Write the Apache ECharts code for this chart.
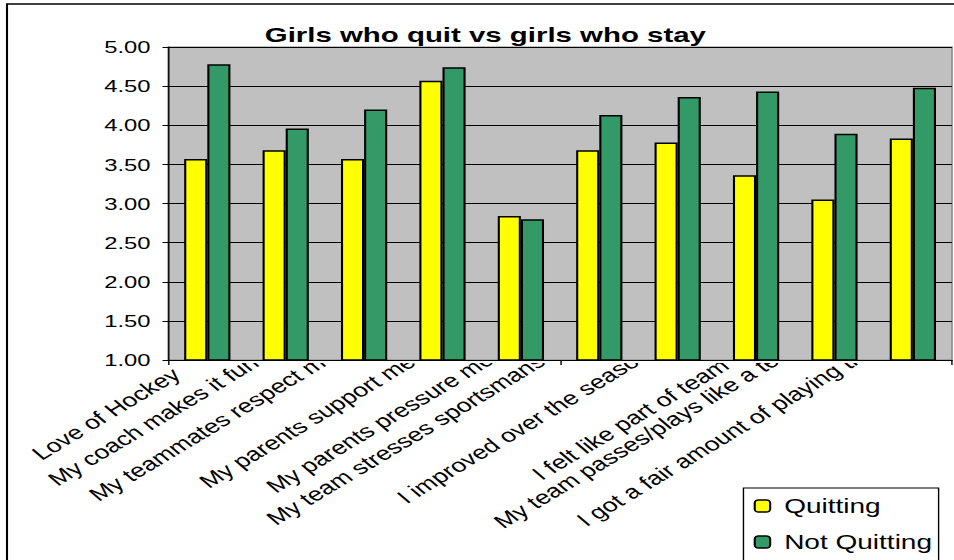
<!DOCTYPE html>
<html>
<head>
<meta charset="utf-8">
<script src="https://cdn.jsdelivr.net/npm/echarts@6/dist/echarts.min.js"></script>
<style>
  html, body { margin: 0; padding: 0; background: #fff; overflow: hidden; width: 954px; height: 560px; }
  /* the chart is laid out narrow and widened horizontally, giving the wide-lettered look */
  #chart { width: 681px; height: 560px; transform: scaleX(1.4009); transform-origin: 0 0; }
</style>
</head>
<body>
<div id="chart"></div>
<script>
// Survey items (category axis)
const categories = [
  'Love of Hockey',
  'My coach makes it fun',
  'My teammates respect me',
  'My parents support me',
  'My parents pressure me',
  'My team stresses sportsmanship',
  'I improved over the season',
  'I felt like part of team',
  'My team passes/plays like a team',
  'I got a fair amount of playing time'
];

// Average scores
const quitting    = [3.57, 3.68, 3.57, 4.57, 2.84, 3.68, 3.78, 3.36, 3.05, 3.83];
const notQuitting = [4.78, 3.96, 4.20, 4.74, 2.80, 4.13, 4.36, 4.43, 3.89, 4.48];

const seriesNames = ['Quitting', 'Not Quitting'];
const titleText = 'Girls who quit vs girls who stay';

// value axis range
const yMin = 1, yMax = 5, yStep = 0.5;

const FONT = '"Liberation Sans", Arial, sans-serif';
const LABEL_SIZE = 19;
const LABEL_ROTATE = 40;

const chart = echarts.init(document.getElementById('chart'), null, { renderer: 'svg' });

chart.setOption({
  animation: false,
  backgroundColor: '#ffffff',
  textStyle: { fontFamily: FONT },
  title: {
    text: titleText,
    left: 189,
    top: 24,
    padding: 0,
    textStyle: { fontFamily: FONT, fontSize: 21, fontWeight: 'bold', color: '#000' }
  },
  legend: {
    orient: 'vertical',
    left: 531,
    top: 488,
    padding: [8, 5, 8, 7],
    itemGap: 16,
    itemWidth: 11,
    itemHeight: 12,
    itemStyle: { borderColor: '#000', borderWidth: 1.5 },
    textStyle: { fontFamily: FONT, fontSize: 20, color: '#000', padding: [0, 0, 0, 5] },
    data: seriesNames
  },
  grid: {
    left: 120,
    right: 1.4,
    top: 47,
    bottom: 200,
    show: true,
    backgroundColor: '#c0c0c0',
    borderColor: '#808080',
    borderWidth: 1
  },
  xAxis: {
    type: 'category',
    data: categories,
    axisLine: { lineStyle: { color: '#000', width: 1 } },
    axisTick: { show: true, length: 5, lineStyle: { color: '#000' } },
    axisLabel: { show: false }
  },
  yAxis: {
    type: 'value',
    min: yMin,
    max: yMax,
    interval: yStep,
    axisLine: { show: true, lineStyle: { color: '#000', width: 1 } },
    axisTick: { show: true, length: 4, lineStyle: { color: '#000' } },
    splitLine: { show: true, lineStyle: { color: '#000', width: 1 } },
    axisLabel: {
      margin: 12.5,
      fontFamily: FONT,
      fontSize: 17,
      color: '#000',
      formatter: v => v.toFixed(2)
    }
  },
  series: [
    {
      name: seriesNames[0],
      type: 'bar',
      data: quitting,
      barGap: '0%',
      barCategoryGap: '41%',
      itemStyle: { color: '#ffff00', borderColor: '#000', borderWidth: 1.5 }
    },
    {
      name: seriesNames[1],
      type: 'bar',
      data: notQuitting,
      barGap: '0%',
      barCategoryGap: '41%',
      itemStyle: { color: '#339966', borderColor: '#000', borderWidth: 1.5 }
    }
  ]
});

// Slanted category labels: each one ends just left of its category centre,
// longer ones sit a little higher; whatever reaches past the axis is hidden
// under the plot background (the labels are drawn below it).
const measureCtx = document.createElement('canvas').getContext('2d');
measureCtx.font = LABEL_SIZE + 'px ' + FONT;
const ang = LABEL_ROTATE * Math.PI / 180;
const axisY = chart.convertToPixel({ yAxisIndex: 0 }, yMin);
const plotLeft = chart.convertToPixel({ xAxisIndex: 0 }, 0) - 28;
const midToBase = 0.3465 * LABEL_SIZE;

const labelEls = categories.map(function (name, i) {
  const cx = chart.convertToPixel({ xAxisIndex: 0 }, i);
  const len = measureCtx.measureText(name).width;
  const endX = cx - 18;
  const endY = axisY + 43 - 0.2 * len;
  return {
    type: 'text',
    x: endX - midToBase * Math.sin(ang),
    y: endY - midToBase * Math.cos(ang),
    rotation: ang,
    z: -5,
    silent: true,
    style: {
      text: name,
      x: 0, y: 0,
      font: LABEL_SIZE + 'px ' + FONT,
      fill: '#000',
      align: 'right',
      verticalAlign: 'middle',
      textAlign: 'right',
      textVerticalAlign: 'middle'
    }
  };
});

chart.setOption({
  graphic: [
    {
      // outer frame of the chart area
      type: 'rect',
      x: 5, y: 4,
      shape: { x: 0, y: 0, width: 1000, height: 1000 },
      style: { fill: 'none', stroke: '#000', lineWidth: 1.5 },
      silent: true,
      z: -6
    },
    {
      // thin margin under the axis line where label ends are cut off
      type: 'rect',
      x: plotLeft, y: axisY + 0.5,
      shape: { x: 0, y: 0, width: 600, height: 2.5 },
      style: { fill: '#ffffff' },
      silent: true,
      z: -4
    },
    {
      // legend frame, running past the bottom edge
      type: 'rect',
      x: 530.7, y: 488,
      shape: { x: 0, y: 0, width: 139.3, height: 120 },
      style: { fill: 'none', stroke: '#000', lineWidth: 1 },
      silent: true,
      z: 5
    }
  ].concat(labelEls)
});
</script>
</body>
</html>
